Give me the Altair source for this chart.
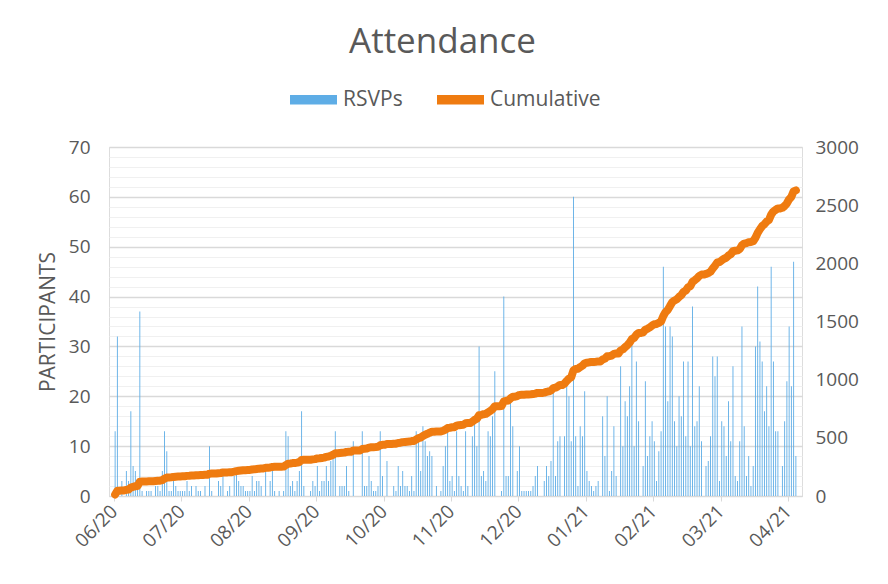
import altair as alt
import pandas as pd

# Daily RSVPs, one list per 30-day block of the category axis
jun = [13,32,0,3,0,5,3,17,6,5,2,37,1,0,1,1,1,0,2,2,1,5,13,9,1,1,3,2,1,1]
jul = [1,1,3,1,2,0,2,1,1,0,2,0,10,1,0,0,3,2,4,0,1,2,0,4,5,3,2,2,1,1]
aug = [1,4,1,3,3,2,0,5,0,3,5,1,0,1,0,1,13,12,2,3,1,3,5,17,2,0,0,1,3,2]
sep = [6,1,3,3,6,3,7,8,13,0,2,2,2,6,1,0,11,0,0,0,13,2,2,8,3,1,1,2,13,4]
oct_ = [0,7,0,0,2,1,6,2,5,2,2,1,4,1,13,11,5,14,11,8,9,8,0,2,0,1,6,10,13,3]
nov = [4,1,13,4,2,1,13,2,0,12,15,10,30,4,5,3,13,12,16,25,0,0,1,40,4,4,19,14,0,5]
dec = [10,1,1,1,1,1,2,4,6,0,0,3,6,4,7,21,4,11,12,0,12,23,20,11,60,12,2,14,12,21]
jan = [5,3,2,1,2,3,0,16,8,20,1,5,14,4,0,26,10,19,16,22,31,10,27,15,0,6,23,8,12,15]
feb = [11,3,9,13,46,34,19,34,32,15,10,20,16,27,12,27,10,38,14,15,22,11,0,6,7,12,28,24,28,3]
mar = [15,14,8,19,11,26,4,3,11,34,14,4,8,2,6,30,42,31,27,17,22,14,46,27,13,13,0,6,15,23]
apr = [34,22,47,8]

tick_labels = ["06/20","07/20","08/20","09/20","10/20","11/20",
               "12/20","01/21","02/21","03/21","04/21"]
tick_step = 30

rsvps = jun + jul + aug + sep + oct_ + nov + dec + jan + feb + mar + apr
n_days = len(rsvps)
df = pd.DataFrame({"day": list(range(n_days)), "rsvps": rsvps})

TEXT = "#595959"
BLUE = "#5EADE6"
ORANGE = "#EF7B10"
FONT = "Open Sans"

label_expr = "[" + ",".join(f"'{l}'" for l in tick_labels) + f"][round(datum.value/{tick_step})]"

x_enc = alt.X(
    "xc:Q",
    scale=alt.Scale(domain=[0, n_days], nice=False, zero=False),
    axis=alt.Axis(
        values=[i * tick_step for i in range(len(tick_labels))],
        labelExpr=label_expr,
        labelAngle=-45,
        labelAlign="right",
        labelBaseline="middle",
        labelFontSize=19,
        labelFont=FONT,
        labelColor=TEXT,
        labelPadding=7,
        ticks=True,
        tickSize=5,
        tickColor="#d9d9d9",
        domainColor="#d9d9d9",
        grid=False,
        title=None,
    ),
)

color_enc = alt.Color(
    "series:N",
    scale=alt.Scale(domain=["RSVPs", "Cumulative"], range=[BLUE, ORANGE]),
    legend=alt.Legend(
        title=None,
        orient="none",
        legendX=181,
        legendY=-71,
        direction="horizontal",
        symbolType="M-1,-0.2L1,-0.2L1,0.2L-1,0.2Z",
        symbolSize=2209,
        symbolStrokeWidth=0,
        labelFontSize=21,
        labelFont=FONT,
        labelColor=TEXT,
        labelOffset=6,
        columnPadding=34,
        padding=0,
    ),
)

base = alt.Chart(df).transform_calculate(xc="datum.day + 0.5")

bars = base.transform_calculate(series="'RSVPs'").mark_bar(size=0.9).encode(
    x=x_enc,
    y=alt.Y(
        "rsvps:Q",
        scale=alt.Scale(domain=[0, 70], nice=False),
        axis=alt.Axis(
            orient="left",
            values=list(range(0, 71, 2)),
            labelExpr="datum.value % 10 === 0 ? datum.label : ''",
            labelFontSize=19,
            labelFont=FONT,
            labelColor=TEXT,
            labelPadding=19,
            ticks=False,
            domain=False,
            grid=True,
            gridColor={"condition": {"test": "datum.value % 10 === 0", "value": "#d9d9d9"},
                       "value": "#f0f0f0"},
            gridWidth={"condition": {"test": "datum.value % 10 === 0", "value": 1.3},
                       "value": 1},
            title="PARTICIPANTS",
            titleFont=FONT,
            titleFontSize=21,
            titleFontWeight="normal",
            titleColor=TEXT,
            titlePadding=10,
        ),
    ),
    color=color_enc,
)

line = base.transform_window(
    cumulative="sum(rsvps)", sort=[alt.SortField("day")], frame=[None, 0]
).transform_calculate(series="'Cumulative'").mark_line(
    strokeWidth=8, strokeCap="round", strokeJoin="round"
).encode(
    x=x_enc,
    y=alt.Y(
        "cumulative:Q",
        scale=alt.Scale(domain=[0, 3000], nice=False),
        axis=alt.Axis(
            orient="right",
            values=list(range(0, 3001, 500)),
            format="d",
            labelFontSize=19,
            labelFont=FONT,
            labelColor=TEXT,
            labelPadding=13,
            ticks=False,
            domain=False,
            grid=False,
            title=None,
        ),
    ),
    color=color_enc,
)

chart = (
    alt.layer(bars, line)
    .resolve_scale(y="independent")
    .properties(
        width=693,
        height=349,
        autosize=alt.AutoSizeParams(type="none"),
        padding={"left": 101, "top": 139, "right": 70, "bottom": 70},
        title=alt.TitleParams(
            "Attendance",
            fontSize=35,
            font=FONT,
            color=TEXT,
            fontWeight="normal",
            anchor="middle",
            baseline="alphabetic",
            offset=17,
            dx=-13,
            dy=29,
        ),
    )
    .configure_view(stroke=None)
    .configure(background="white")
)

chart.save("out.html", embed_options={"renderer": "svg", "actions": False})
